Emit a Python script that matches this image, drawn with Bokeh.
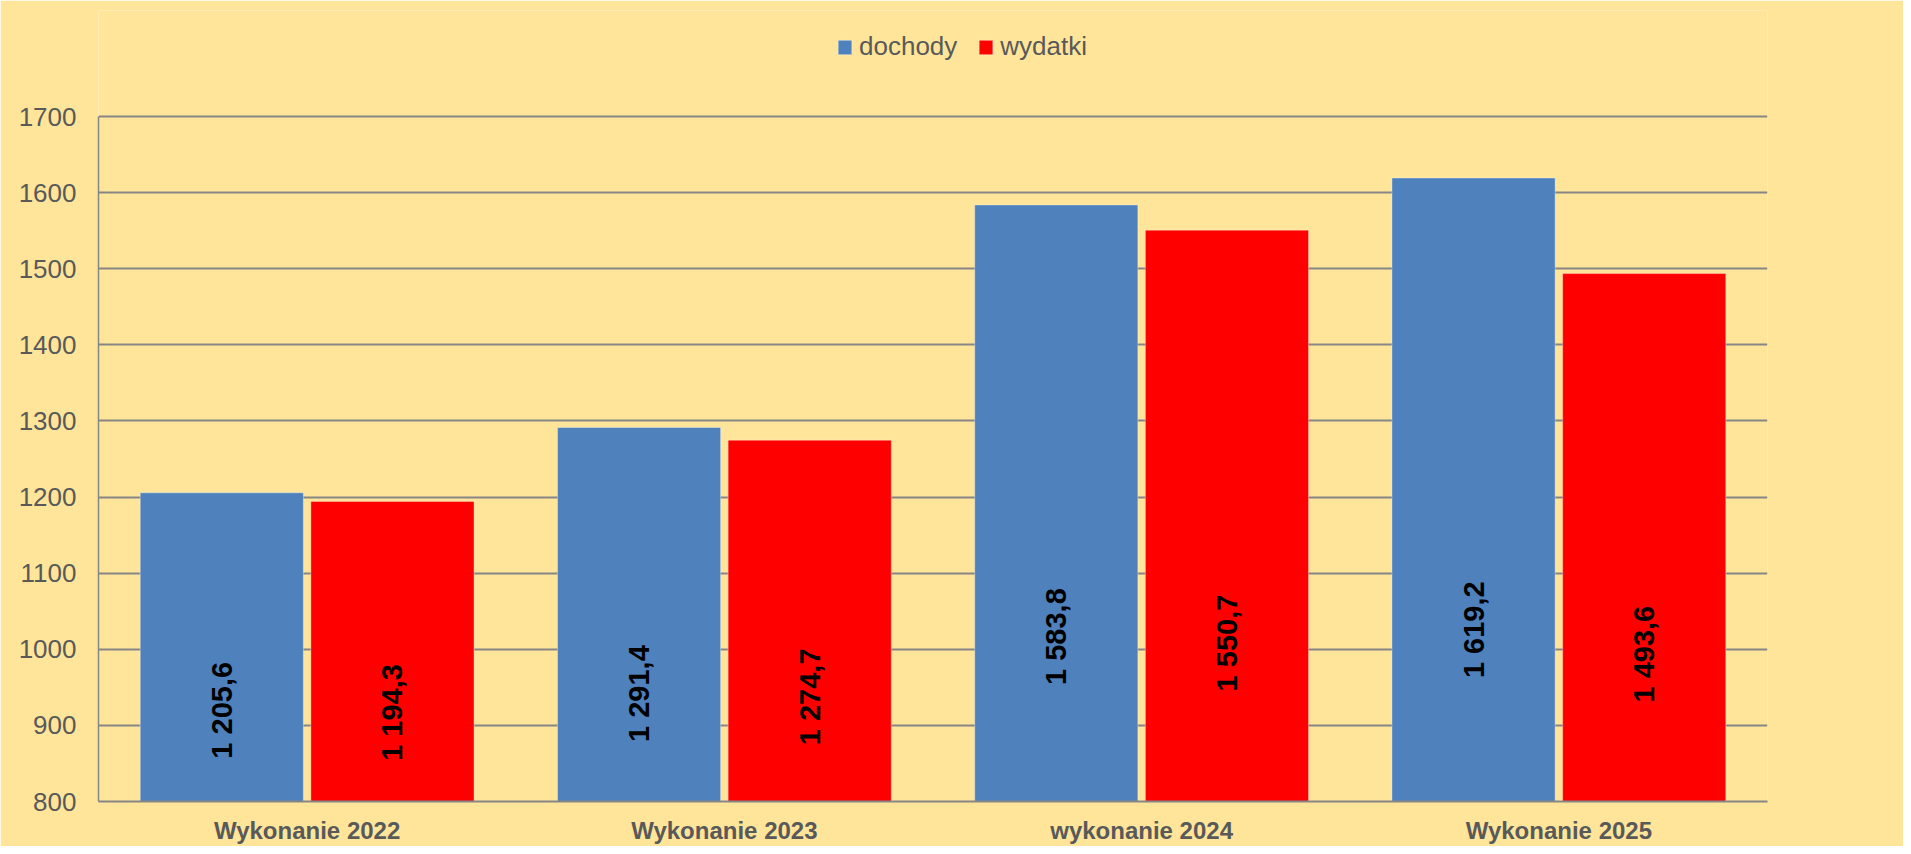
from bokeh.plotting import figure
from bokeh.models import FactorRange, Range1d, ColumnDataSource, FixedTicker, Legend
from bokeh.transform import dodge
from bokeh.core.properties import value
from bokeh.embed import file_html
from bokeh.resources import INLINE

categories = ["Wykonanie 2022", "Wykonanie 2023", "wykonanie 2024", "Wykonanie 2025"]
dochody = [1205.6, 1291.4, 1583.8, 1619.2]
wydatki = [1194.3, 1274.7, 1550.7, 1493.6]
series_names = ["dochody", "wydatki"]
y_min, y_max, y_step = 800, 1700, 100
y_ticks = list(range(y_min, y_max + 1, y_step))

BG = "#FFE599"
BLUE = "#4F81BD"
RED = "#FF0000"
GRID = "#868686"
TXT = "#595959"
FONT = "Liberation Sans"


def fmt(v):
    return f"{v:,.1f}".replace(",", " ").replace(".", ",")


def label_pos(v):
    # labels sit in the lower part of each bar, rising slowly with the value
    return y_min + 16 + 0.256 * (v - y_min)


src = ColumnDataSource(dict(
    cat=categories,
    dochody=dochody,
    wydatki=wydatki,
    d_lab=[fmt(v) for v in dochody],
    w_lab=[fmt(v) for v in wydatki],
    d_y=[label_pos(v) for v in dochody],
    w_y=[label_pos(v) for v in wydatki],
))

# layout: the value axis spans 685 px (800..1700); the frame extends above 1700
# so that the legend can sit inside it
W, H = 1903, 846
top_b, bot_b = 10, 45
axis_px = 685
frame_h = H - top_b - bot_b
y_end = y_min + (y_max - y_min) * frame_h / axis_px

p = figure(
    x_range=FactorRange(*categories, range_padding=0),
    y_range=Range1d(y_min, y_end),
    width=W, height=H,
    output_backend="svg", toolbar_location=None,
    min_border_left=98, min_border_right=136,
    min_border_top=top_b, min_border_bottom=bot_b,
)
p.background_fill_color = BG
p.border_fill_color = BG
p.outline_line_color = None

off = 0.2045
bw = 0.391
r1 = p.vbar(x=dodge("cat", -off, range=p.x_range), top="dochody", bottom=y_min, width=bw,
            source=src, fill_color=BLUE, line_color="#FFFFFF", line_alpha=0.35, line_width=1)
r2 = p.vbar(x=dodge("cat", off, range=p.x_range), top="wydatki", bottom=y_min, width=bw,
            source=src, fill_color=RED, line_color="#FFFFFF", line_alpha=0.35, line_width=1)

for xo, col, ycol in [(-off, "d_lab", "d_y"), (off, "w_lab", "w_y")]:
    p.text(x=dodge("cat", xo, range=p.x_range), y=ycol, text=col, source=src,
           angle=1.5708, text_align="center", text_baseline="middle",
           text_font=value(FONT), text_font_style="bold", text_font_size="29px",
           text_color="#000000")

# axes
p.yaxis.ticker = FixedTicker(ticks=y_ticks)
p.yaxis.bounds = (y_min, y_max)
p.yaxis.major_tick_in = 0
p.yaxis.major_tick_out = 0
p.yaxis.minor_tick_in = 0
p.yaxis.minor_tick_out = 0
p.yaxis.axis_line_color = GRID
p.yaxis.axis_line_width = 1.5
p.yaxis.major_label_text_font = FONT
p.yaxis.major_label_text_font_size = "26px"
p.yaxis.major_label_text_color = TXT
p.yaxis.major_label_standoff = 22

p.xaxis.major_tick_in = 0
p.xaxis.major_tick_out = 0
p.xaxis.axis_line_color = GRID
p.xaxis.axis_line_width = 2
p.xaxis.major_label_text_font = FONT
p.xaxis.major_label_text_font_size = "24px"
p.xaxis.major_label_text_font_style = "bold"
p.xaxis.major_label_text_color = TXT
p.xaxis.major_label_standoff = 15

p.xgrid.grid_line_color = None
p.ygrid.grid_line_color = GRID
p.ygrid.grid_line_width = 2

legend = Legend(items=[(series_names[0], [r1]), (series_names[1], [r2])],
                orientation="horizontal", location=(738, frame_h - 37 - 15),
                background_fill_alpha=0, border_line_color=None,
                padding=0, margin=0, spacing=20, label_standoff=6,
                glyph_width=17, glyph_height=18,
                label_text_font=FONT, label_text_font_size="26px",
                label_text_color=TXT, label_height=26)
p.add_layout(legend, "center")

open("out.html", "w").write(file_html(p, INLINE))
